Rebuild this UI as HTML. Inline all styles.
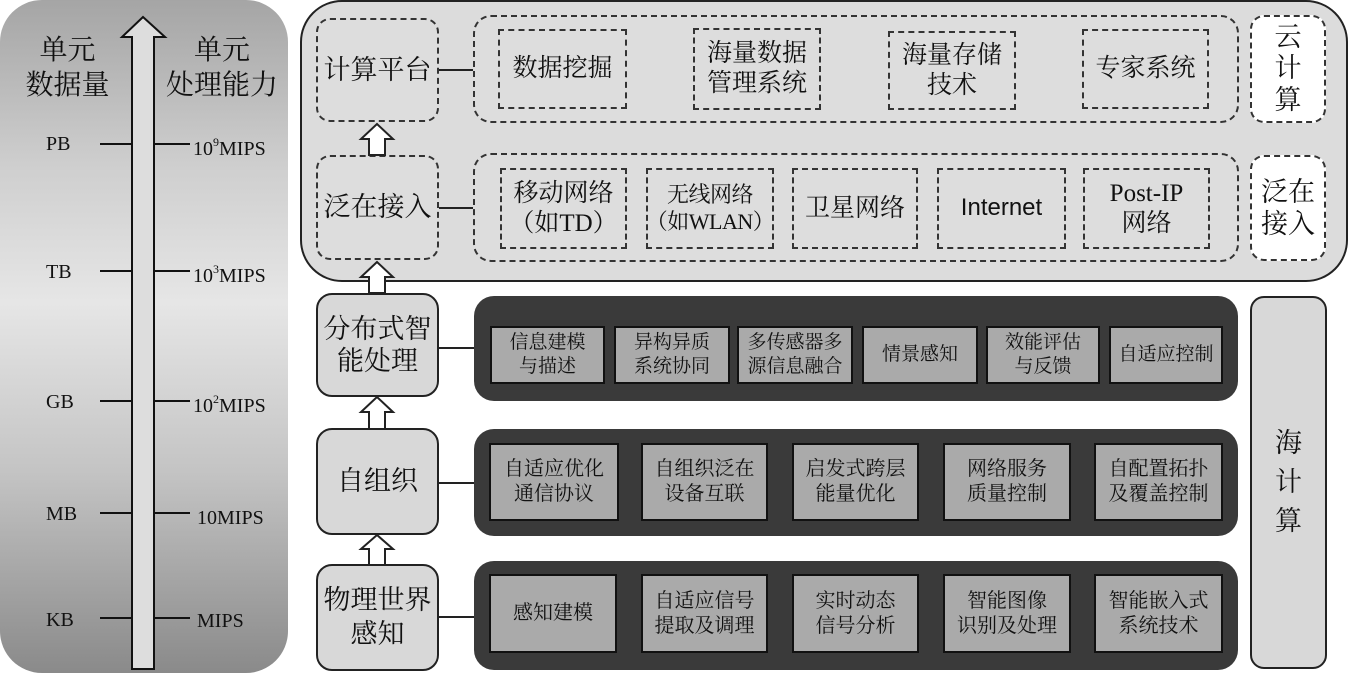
<!DOCTYPE html>
<html><head><meta charset="utf-8"><style>
body{margin:0;width:1352px;height:675px;background:#fff;position:relative;overflow:hidden;font-family:"Liberation Serif","Noto Serif CJK SC",serif;color:#111}
div{position:absolute;box-sizing:border-box}
.c{display:flex;align-items:center;justify-content:center;text-align:center;line-height:1.2}
.dash{border:2px dashed #333;border-radius:14px;background:#ddd}
.dr{border:2px dashed #333;background:#ddd;font-size:25px}
.solid{border:2px solid #222;border-radius:16px;background:#d8d8d8;font-size:27px}
.dark{background:#3a3a3a;border-radius:20px}
.g{background:#aaa;border:2px solid #111;font-size:19px;line-height:1.25}
.ln{background:#222;height:2px}
</style></head><body>
<div style="left:0;top:0;width:288px;height:673px;border-radius:42px;background:linear-gradient(#a5a5a5 0%,#cfcfcf 25%,#e6e6e6 45%,#c4c4c4 70%,#8a8a8a 100%)"></div>
<svg style="position:absolute;left:0;top:0" width="300" height="675">
<polygon points="143,17 122,37 132,37 132,669 154,669 154,37 165,37" fill="#ddd" stroke="#111" stroke-width="2"/>
<g stroke="#111" stroke-width="2">
<line x1="100" y1="144" x2="131" y2="144"/><line x1="155" y1="144" x2="190" y2="144"/>
<line x1="100" y1="271" x2="131" y2="271"/><line x1="155" y1="271" x2="190" y2="271"/>
<line x1="100" y1="401" x2="131" y2="401"/><line x1="155" y1="401" x2="190" y2="401"/>
<line x1="100" y1="513" x2="131" y2="513"/><line x1="155" y1="513" x2="190" y2="513"/>
<line x1="100" y1="618" x2="131" y2="618"/><line x1="155" y1="618" x2="190" y2="618"/>
</g>
<g font-family="Liberation Serif" font-size="20" fill="#111">
<text x="46" y="150">PB</text><text x="46" y="278">TB</text><text x="46" y="408">GB</text><text x="46" y="520">MB</text><text x="46" y="626">KB</text>
<text x="193" y="155">10<tspan font-size="12" dy="-9">9</tspan><tspan dy="9">MIPS</tspan></text>
<text x="193" y="282">10<tspan font-size="12" dy="-9">3</tspan><tspan dy="9">MIPS</tspan></text>
<text x="193" y="412">10<tspan font-size="12" dy="-9">2</tspan><tspan dy="9">MIPS</tspan></text>
<text x="197" y="524">10MIPS</text><text x="197" y="627">MIPS</text>
</g>
</svg>
<div class="c" style="left:20px;top:30px;width:95px;height:75px;font-size:28px;line-height:1.25">单元<br>数据量</div>
<div class="c" style="left:160px;top:30px;width:124px;height:75px;font-size:28px;line-height:1.25">单元<br>处理能力</div>

<div style="left:300px;top:0;width:1048px;height:282px;border:2px solid #222;border-radius:42px;background:#dcdcdc"></div>
<div class="dash c" style="left:316px;top:18px;width:123px;height:104px;font-size:27px">计算平台</div>
<div class="dash c" style="left:316px;top:155px;width:123px;height:105px;font-size:27px">泛在接入</div>
<div class="dash" style="left:473px;top:15px;width:766px;height:108px;border-radius:18px"></div>
<div class="dash" style="left:473px;top:153px;width:766px;height:109px;border-radius:18px"></div>
<div class="ln" style="left:439px;top:69px;width:34px"></div>
<div class="ln" style="left:439px;top:207px;width:34px"></div>
<div class="dr c" style="left:498px;top:29px;width:129px;height:80px">数据挖掘</div>
<div class="dr c" style="left:693px;top:28px;width:128px;height:82px">海量数据<br>管理系统</div>
<div class="dr c" style="left:888px;top:31px;width:128px;height:79px">海量存储<br>技术</div>
<div class="dr c" style="left:1082px;top:29px;width:127px;height:80px">专家系统</div>
<div class="dr c" style="left:500px;top:168px;width:127px;height:81px">移动网络<br>（如TD）</div>
<div class="dr c" style="left:646px;top:168px;width:128px;height:81px;font-size:22px;white-space:nowrap;letter-spacing:-0.5px">无线网络<br>（如WLAN）</div>
<div class="dr c" style="left:792px;top:168px;width:126px;height:81px">卫星网络</div>
<div class="dr c" style="left:937px;top:168px;width:129px;height:81px;font-family:'Liberation Sans',sans-serif;font-size:24px">Internet</div>
<div class="dr c" style="left:1083px;top:168px;width:127px;height:81px">Post-IP<br>网络</div>
<div class="dash c" style="left:1250px;top:15px;width:76px;height:108px;background:#fff;font-size:27px;line-height:1.15">云<br>计<br>算</div>
<div class="dash c" style="left:1250px;top:155px;width:76px;height:106px;background:#fff;font-size:27px">泛在<br>接入</div>

<svg style="position:absolute;left:355px;top:0" width="45" height="675">
<g fill="#fff" stroke="#222" stroke-width="2">
<polygon points="22,124 6,139 14,139 14,155 30,155 30,139 38,139"/>
<polygon points="22,262 6,277 14,277 14,293 30,293 30,277 38,277"/>
<polygon points="22,397 6,412 14,412 14,429 30,429 30,412 38,412"/>
<polygon points="22,535 6,549 14,549 14,565 30,565 30,549 38,549"/>
</g></svg>

<div class="solid c" style="left:316px;top:293px;width:123px;height:104px">分布式智<br>能处理</div>
<div class="solid c" style="left:316px;top:428px;width:123px;height:107px">自组织</div>
<div class="solid c" style="left:316px;top:564px;width:123px;height:107px;line-height:1.25">物理世界<br>感知</div>
<div class="ln" style="left:439px;top:347px;width:35px"></div>
<div class="ln" style="left:439px;top:482px;width:35px"></div>
<div class="ln" style="left:439px;top:616px;width:35px"></div>

<div class="dark" style="left:474px;top:296px;width:764px;height:105px"></div>
<div class="dark" style="left:474px;top:429px;width:764px;height:107px"></div>
<div class="dark" style="left:474px;top:561px;width:764px;height:109px"></div>

<div class="g c" style="left:490px;top:326px;width:115px;height:58px">信息建模<br>与描述</div>
<div class="g c" style="left:614px;top:326px;width:116px;height:58px">异构异质<br>系统协同</div>
<div class="g c" style="left:737px;top:326px;width:116px;height:58px">多传感器多<br>源信息融合</div>
<div class="g c" style="left:862px;top:326px;width:116px;height:58px">情景感知</div>
<div class="g c" style="left:986px;top:326px;width:114px;height:58px">效能评估<br>与反馈</div>
<div class="g c" style="left:1109px;top:326px;width:114px;height:58px">自适应控制</div>

<div class="g c" style="left:489px;top:443px;width:130px;height:78px;font-size:20px">自适应优化<br>通信协议</div>
<div class="g c" style="left:641px;top:443px;width:127px;height:78px;font-size:20px">自组织泛在<br>设备互联</div>
<div class="g c" style="left:792px;top:443px;width:127px;height:78px;font-size:20px">启发式跨层<br>能量优化</div>
<div class="g c" style="left:943px;top:443px;width:128px;height:78px;font-size:20px">网络服务<br>质量控制</div>
<div class="g c" style="left:1094px;top:443px;width:129px;height:78px;font-size:20px">自配置拓扑<br>及覆盖控制</div>

<div class="g c" style="left:489px;top:574px;width:128px;height:79px;font-size:20px">感知建模</div>
<div class="g c" style="left:641px;top:574px;width:127px;height:79px;font-size:20px">自适应信号<br>提取及调理</div>
<div class="g c" style="left:792px;top:574px;width:127px;height:79px;font-size:20px">实时动态<br>信号分析</div>
<div class="g c" style="left:943px;top:574px;width:128px;height:79px;font-size:20px">智能图像<br>识别及处理</div>
<div class="g c" style="left:1094px;top:574px;width:129px;height:79px;font-size:20px">智能嵌入式<br>系统技术</div>

<div class="solid c" style="left:1250px;top:296px;width:77px;height:373px;border-radius:14px;line-height:1.45">海<br>计<br>算</div>
</body></html>
